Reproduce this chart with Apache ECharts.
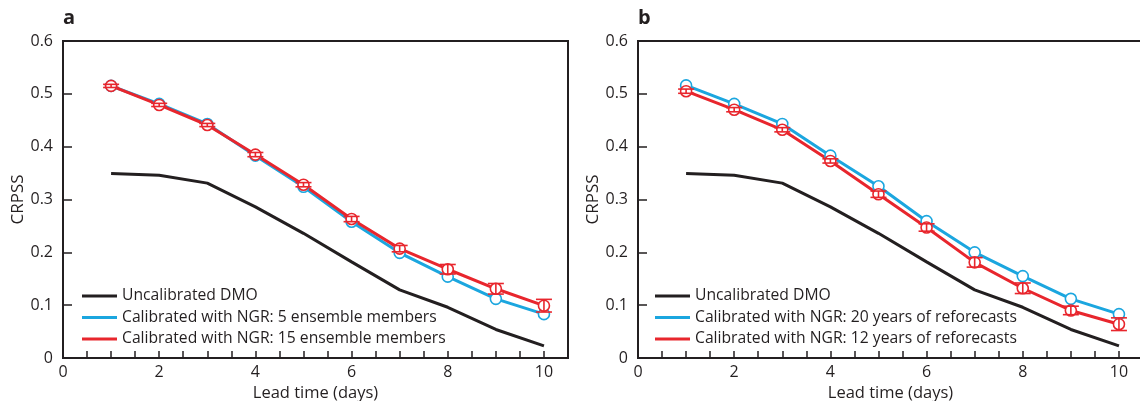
<!DOCTYPE html>
<html>
<head>
<meta charset="utf-8">
<script src="https://cdn.jsdelivr.net/npm/echarts@6/dist/echarts.min.js"></script>
<style>
  html, body { margin: 0; padding: 0; background: #fff; }
  #chart { width: 1140px; height: 401px; }
</style>
</head>
<body>
<div id="chart"></div>
<script>
// lead time (days)
var days = [1, 2, 3, 4, 5, 6, 7, 8, 9, 10];
var xTicks = [0, 2, 4, 6, 8, 10];

// uncalibrated DMO (same in both panels)
var dmo = [0.349, 0.346, 0.331, 0.286, 0.236, 0.182, 0.129, 0.096, 0.054, 0.023];

// panel a
var blueA = [0.515, 0.481, 0.443, 0.383, 0.324, 0.258, 0.199, 0.154, 0.112, 0.083];
var redA = [0.515, 0.479, 0.441, 0.385, 0.328, 0.263, 0.207, 0.168, 0.131, 0.099];
var redAErr = [0.003, 0.003, 0.003, 0.004, 0.004, 0.005, 0.006, 0.009, 0.010, 0.012];

// panel b
var blueB = [0.516, 0.481, 0.443, 0.383, 0.325, 0.259, 0.200, 0.155, 0.112, 0.083];
var redB = [0.505, 0.470, 0.432, 0.373, 0.310, 0.247, 0.181, 0.132, 0.090, 0.064];
var redBErr = [0.004, 0.004, 0.004, 0.004, 0.006, 0.007, 0.009, 0.010, 0.008, 0.012];

var namesA = ['Uncalibrated DMO', 'Calibrated with NGR: 5 ensemble members', 'Calibrated with NGR: 15 ensemble members'];
var namesB = ['Uncalibrated DMO', 'Calibrated with NGR: 20 years of reforecasts', 'Calibrated with NGR: 12 years of reforecasts'];

var BLACK = '#231f20', BLUE = '#1ba6df', RED = '#e8262d';
var lineColors = [BLACK, BLUE, RED];
var FONT = 'Open Sans';

function pairs(ys) {
	return days.map(function (d, i) { return [d, ys[i]]; });
}
function errData(ys, err) {
	return days.map(function (d, i) { return [d, ys[i] - err[i], ys[i] + err[i]]; });
}

function errRender(params, api) {
	var x = api.value(0);
	var lo = api.coord([x, api.value(1)]);
	var hi = api.coord([x, api.value(2)]);
	var w = 8;
	var st = { stroke: RED, lineWidth: 1.6 };
	return {
		type: 'group',
		children: [
			{ type: 'line', shape: { x1: lo[0], y1: lo[1], x2: hi[0], y2: hi[1] }, style: st },
			{ type: 'line', shape: { x1: lo[0] - w, y1: lo[1], x2: lo[0] + w, y2: lo[1] }, style: st },
			{ type: 'line', shape: { x1: hi[0] - w, y1: hi[1], x2: hi[0] + w, y2: hi[1] }, style: st }
		]
	};
}

function xAxisCfg(idx) {
	return {
		type: 'value', gridIndex: idx, min: 0, max: 10.5, interval: 0.5,
		name: 'Lead time (days)', nameLocation: 'middle', nameGap: 19,
		nameTextStyle: { fontFamily: FONT, fontSize: 16.5, color: BLACK },
		axisLine: { lineStyle: { color: BLACK, width: 2 } },
		axisTick: { inside: true, length: 7, lineStyle: { color: BLACK, width: 1.5 } },
		axisLabel: {
			margin: 6, fontFamily: FONT, fontSize: 16, color: BLACK,
			formatter: function (v) { return xTicks.indexOf(v) >= 0 ? String(v) : ''; }
		},
		splitLine: { show: false }
	};
}
function yAxisCfg(idx) {
	return {
		type: 'value', gridIndex: idx, min: 0, max: 0.6, interval: 0.1,
		name: 'CRPSS', nameLocation: 'middle', nameGap: 34,
		nameTextStyle: { fontFamily: FONT, fontSize: 17, color: BLACK },
		axisLine: { lineStyle: { color: BLACK, width: 2 } },
		axisTick: { inside: true, length: 9, lineStyle: { color: BLACK, width: 1.5 } },
		axisLabel: {
			margin: 10, fontFamily: FONT, fontSize: 16, color: BLACK,
			formatter: function (v) { return v === 0 ? '0' : v.toFixed(1); }
		},
		splitLine: { show: false }
	};
}

function lineSeries(name, ys, color, idx, withSym) {
	return {
		name: name, type: 'line', xAxisIndex: idx, yAxisIndex: idx,
		data: pairs(ys),
		lineStyle: { color: color, width: 3 },
		itemStyle: { color: '#fff', borderColor: color, borderWidth: 1.6 },
		symbol: withSym ? 'circle' : 'none', symbolSize: 11, showSymbol: withSym,
		animation: false, z: 3
	};
}
function errSeries(ys, err, idx) {
	return {
		type: 'custom', xAxisIndex: idx, yAxisIndex: idx,
		data: errData(ys, err), renderItem: errRender,
		encode: { x: 0, y: [1, 2] }, animation: false, z: 5, silent: true
	};
}
function legendCfg(left, names) {
	return {
		data: names.map(function (n, i) {
			return { name: n, itemStyle: { color: lineColors[i], borderWidth: 0 } };
		}),
		left: left, top: 283, orient: 'vertical',
		icon: 'rect', itemWidth: 35, itemHeight: 3, itemGap: 5.5,
		textStyle: { fontFamily: FONT, fontSize: 15.7, color: BLACK },
		selectedMode: false
	};
}

var chart = echarts.init(document.getElementById('chart'));
chart.setOption({
	backgroundColor: '#fff',
	animation: false,
	grid: [
		{ left: 63, top: 41, width: 505, height: 317, show: true, borderColor: BLACK, borderWidth: 2, outerBoundsMode: 'none', containLabel: false },
		{ left: 638, top: 41, width: 505, height: 317, show: true, borderColor: BLACK, borderWidth: 2, outerBoundsMode: 'none', containLabel: false }
	],
	xAxis: [xAxisCfg(0), xAxisCfg(1)],
	yAxis: [yAxisCfg(0), yAxisCfg(1)],
	legend: [legendCfg(77, namesA), legendCfg(650, namesB)],
	graphic: [
		{ type: 'text', left: 63, top: 8, style: { text: 'a', font: 'bold 20px "Open Sans"', fill: BLACK } },
		{ type: 'text', left: 638, top: 8, style: { text: 'b', font: 'bold 20px "Open Sans"', fill: BLACK } }
	],
	series: [
		lineSeries(namesA[0], dmo, BLACK, 0, false),
		lineSeries(namesA[1], blueA, BLUE, 0, true),
		lineSeries(namesA[2], redA, RED, 0, true),
		errSeries(redA, redAErr, 0),
		lineSeries(namesB[0], dmo, BLACK, 1, false),
		lineSeries(namesB[1], blueB, BLUE, 1, true),
		lineSeries(namesB[2], redB, RED, 1, true),
		errSeries(redB, redBErr, 1)
	]
});
</script>
</body>
</html>
